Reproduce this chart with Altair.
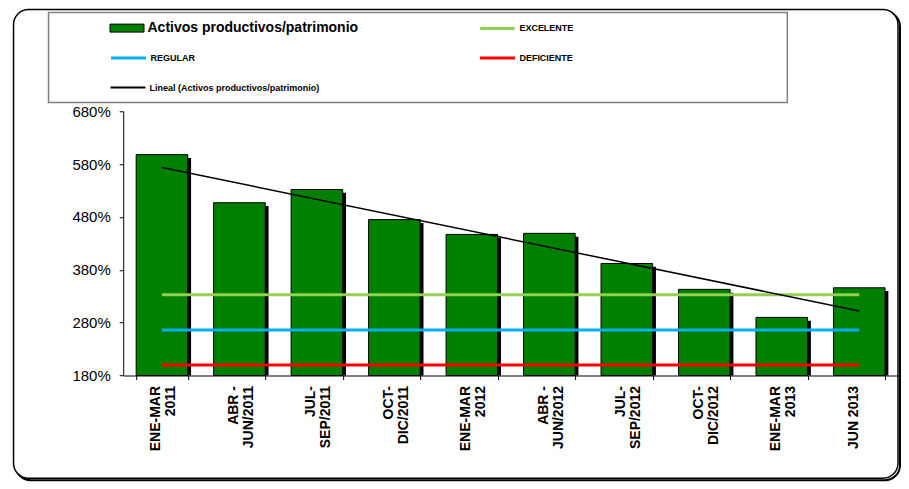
import json
import altair as alt
import pandas as pd

# ---------------- data ----------------
periodos = ["ENE-MAR|2011", "ABR -|JUN/2011", "JUL-|SEP/2011", "OCT-|DIC/2011",
            "ENE-MAR|2012", "ABR -|JUN/2012", "JUL-|SEP/2012", "OCT-|DIC/2012",
            "ENE-MAR|2013", "JUN 2013"]
activos = [5.98, 5.07, 5.32, 4.75, 4.47, 4.49, 3.92, 3.43, 2.90, 3.46]
serie_barras = "Activos productivos/patrimonio"
serie_tendencia = "Lineal (Activos productivos/patrimonio)"
niveles = ["EXCELENTE", "REGULAR", "DEFICIENTE"]
niveles_valor = [3.33, 2.66, 2.00]
niveles_color = ["#92D050", "#00B0F0", "#FF0000"]
y_ticks = [1.8, 2.8, 3.8, 4.8, 5.8, 6.8]

W, H = 775, 264.3
FONT = "Liberation Sans"

bars_df = pd.DataFrame({
    "cat": periodos,
    "v": activos,
    "idx": list(range(1, len(periodos) + 1)),
    "serie": [serie_barras] * len(periodos),
})

def nivel_df(i):
    return pd.DataFrame({
        "cat": [periodos[0], periodos[-1]],
        "v": [niveles_valor[i]] * 2,
        "serie": [niveles[i]] * 2,
    })

x_enc = alt.X("cat:N", sort=periodos,
              scale=alt.Scale(domain=periodos, paddingInner=0.334, paddingOuter=0.167),
              axis=alt.Axis(title=None, labelAngle=270, labelAlign="right",
                            labelBaseline="middle",
                            labelExpr="split(datum.label, '|')",
                            labelOffset=-6,
                            labelFont=FONT, labelFontSize=14, labelFontWeight="bold",
                            labelColor="black", labelLineHeight=15, labelPadding=6,
                            tickBand="extent", tickSize=4, tickColor="black",
                            domainColor="black", labelLimit=0, zindex=1))
y_enc = alt.Y("v:Q", scale=alt.Scale(domain=[1.8, 6.8], zero=False, nice=False),
              axis=alt.Axis(values=y_ticks, format=".0%", title=None,
                            labelFont=FONT, labelFontSize=15, labelColor="black",
                            tickSize=4, tickColor="black", domainColor="black",
                            labelPadding=9, grid=False, zindex=1))

def leg(x, y, **kw):
    base = dict(title=None, orient="none", legendX=x, legendY=y, padding=0,
                labelFont=FONT, labelFontSize=9, labelFontWeight="bold",
                labelColor="black", labelOffset=3, symbolType="stroke",
                symbolSize=1225, symbolStrokeWidth=3, labelLimit=500)
    base.update(kw)
    return alt.Legend(**base)

one = alt.Data(values=[{"k": 1}])

# outer frame (decoration)
frame_shadow = alt.Chart(one).mark_rect(fill="white", stroke="black", strokeWidth=2,
                                        cornerRadius=15).encode(
    x=alt.value(-107.7), x2=alt.value(777), y=alt.value(-99.7), y2=alt.value(369))
frame = alt.Chart(one).mark_rect(fill="white", stroke="black", strokeWidth=1.5,
                                 cornerRadius=15).encode(
    x=alt.value(-109.7), x2=alt.value(775), y=alt.value(-101.7), y2=alt.value(367))
legend_box = alt.Chart(one).mark_rect(fill="white", stroke="#808080", strokeWidth=1.5).encode(
    x=alt.value(-74.7), x2=alt.value(664.3), y=alt.value(-98.7), y2=alt.value(-8.7))

shadow = alt.Chart(bars_df).mark_bar(color="black", xOffset=3.3, yOffset=3.3).encode(
    x=x_enc, y=y_enc, y2=alt.datum(1.8))

bars = alt.Chart(bars_df).mark_bar(stroke="black", strokeWidth=1).encode(
    x=x_enc, y=y_enc, y2=alt.datum(1.8),
    fill=alt.Fill("serie:N", scale=alt.Scale(domain=[serie_barras], range=["#008000"]),
                  legend=leg(-13.7, -100.7, labelFontSize=14,
                             symbolType="M-1,-0.235H1V0.235H-1Z", symbolSize=1156,
                             symbolStrokeColor="black", symbolStrokeWidth=1)))

exc = alt.Chart(nivel_df(0)).mark_line(color=niveles_color[0]).encode(
    x=x_enc, y=y_enc,
    strokeWidth=alt.StrokeWidth("serie:N", scale=alt.Scale(domain=[niveles[0]], range=[3, 3]),
                                legend=leg(355.3, -101.9, symbolSize=1190,
                                           symbolStrokeColor=niveles_color[0])))

reg = alt.Chart(nivel_df(1)).mark_line(strokeWidth=3).encode(
    x=x_enc, y=y_enc,
    stroke=alt.Stroke("serie:N", scale=alt.Scale(domain=[niveles[1]], range=[niveles_color[1]]),
                      legend=leg(-13.7, -72.2)))

defi = alt.Chart(nivel_df(2)).mark_line(strokeWidth=3, color=niveles_color[2]).encode(
    x=x_enc, y=y_enc,
    strokeDash=alt.StrokeDash("serie:N", scale=alt.Scale(domain=[niveles[2]], range=[[1, 0]]),
                              legend=leg(355.3, -72.2, symbolStrokeColor=niveles_color[2])))

trend = alt.Chart(bars_df).transform_regression(
    "idx", "v", method="linear", extent=[1, len(periodos)]
).transform_calculate(
    cat=f"{json.dumps(periodos)}[datum.idx - 1]",
    serie=f"'{serie_tendencia}'",
).mark_line(color="black", strokeWidth=1.5).encode(
    x=x_enc, y=y_enc,
    opacity=alt.Opacity("serie:N", scale=alt.Scale(domain=[serie_tendencia], range=[1, 1]),
                        legend=leg(-13.7, -42.2, symbolStrokeColor="black",
                                   symbolStrokeWidth=2)))

chart = alt.layer(frame_shadow, frame, legend_box, shadow, bars, exc, reg, defi, trend).resolve_scale(
    fill="independent", stroke="independent", strokeDash="independent",
    strokeWidth="independent", opacity="independent"
).properties(
    width=W, height=H,
    padding={"left": 4.25, "top": 0.25, "right": 0, "bottom": 0},
).configure_view(stroke=None)

chart.save("out.html", embed_options={"renderer": "svg", "actions": False})
